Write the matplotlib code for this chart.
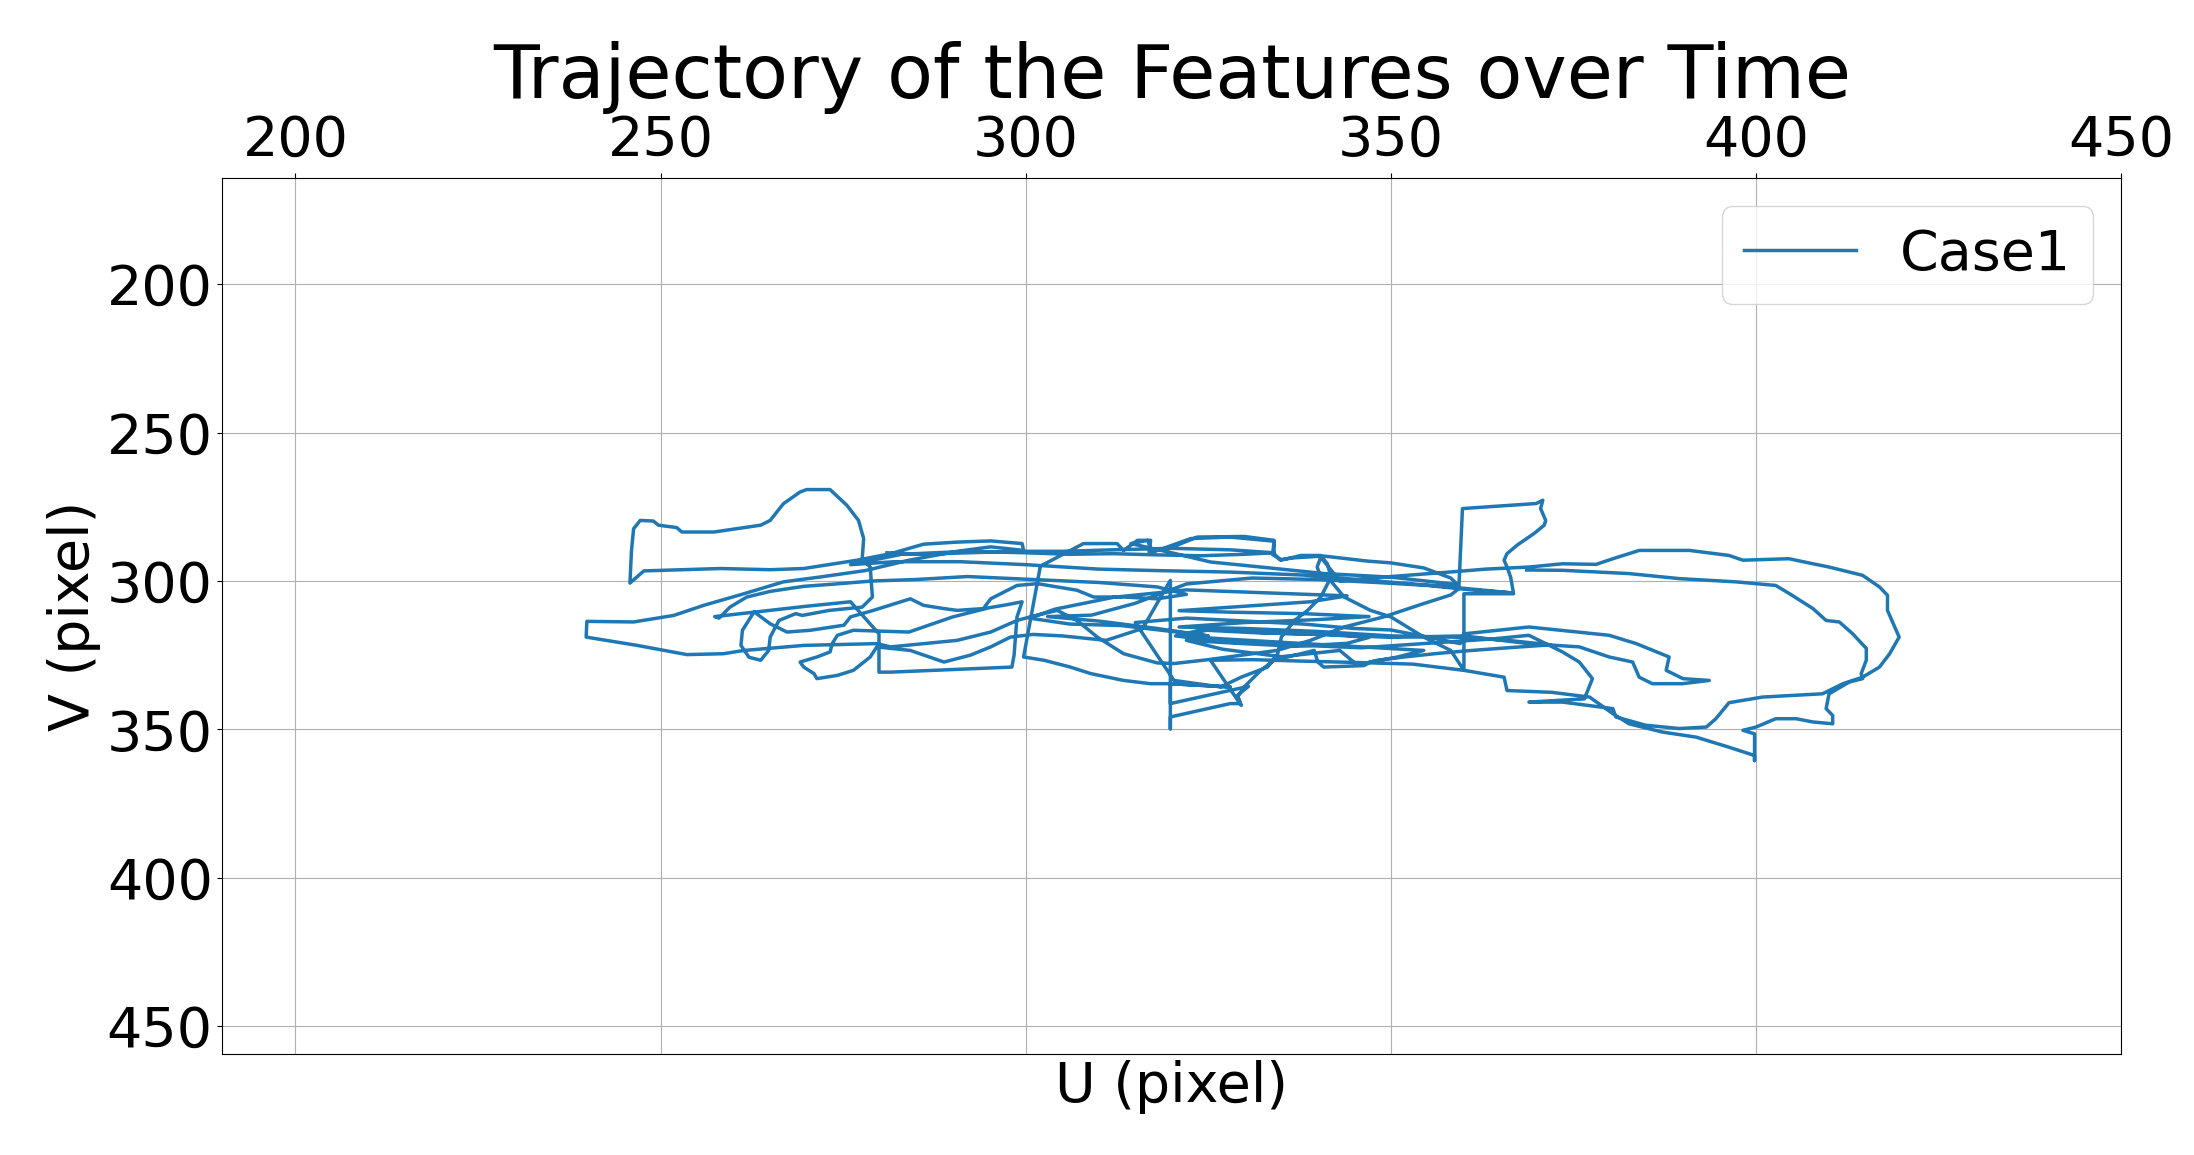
import numpy as np
import matplotlib
matplotlib.use("Agg")
import matplotlib.pyplot as plt

# feature trajectory (pixel coordinates)
u_px = [368.6, 373.5, 382.6, 389.5, 397.3, 402.7, 404.6, 407.8, 409.6, 411.4, 413.2, 415.1, 415.1, 414.4, 414.6,
        412.8, 410.0, 409.6, 410.5, 410.5, 407.8, 405.5, 402.7, 400.0, 398.2, 399.8, 399.8, 399.8, 396.3, 391.8,
        387.2, 382.6, 380.4, 377.2, 372.0, 365.9, 365.5, 360.0, 360.0, 366.8, 366.4, 365.9, 365.5, 365.9, 367.3,
        369.6, 371.0, 371.2, 370.5, 370.8, 369.9, 359.8, 359.3, 358.2, 354.5, 349.0, 343.6, 339.0, 334.4, 325.0,
        320.3, 318.0, 313.4, 309.8, 307.0, 304.3, 300.6, 298.8, 295.2, 290.6, 286.0, 281.5, 279.6, 269.6, 261.4,
        258.6, 253.6, 246.8, 239.8, 239.9, 246.3, 251.8, 255.9, 261.4, 266.8, 272.0, 278.0, 284.0, 290.6, 295.2,
        299.7, 299.5, 295.2, 290.6, 286.0, 281.5, 276.9, 269.6, 265.0, 258.2, 252.7, 247.7, 245.8, 246.0, 246.3,
        247.2, 249.0, 249.7, 252.2, 252.9, 257.3, 263.7, 265.0, 266.8, 269.1, 270.0, 273.2, 275.5, 277.1, 277.8,
        277.6, 278.7, 279.0, 277.6, 273.1, 269.4, 268.5, 266.2, 265.0, 264.8, 263.7, 262.1, 261.0, 261.2, 262.8,
        265.0, 267.3, 270.5, 275.1, 276.0, 279.0, 284.2, 286.0, 288.8, 290.6, 294.2, 295.2, 298.8, 301.6, 307.0,
        309.3, 313.4, 318.0, 322.0, 318.0, 310.0, 301.0, 292.0, 285.0, 279.0, 274.0, 269.6, 265.0, 261.8, 259.5,
        258.0, 257.4, 263.2, 270.0, 276.0, 279.9, 279.9, 281.5, 298.1, 298.4, 298.8, 299.5, 297.4, 295.0, 290.0,
        284.0, 276.4, 274.2, 273.5, 273.2, 271.4, 269.1, 269.6, 271.0, 271.4, 274.2, 276.4, 278.7, 279.6, 284.2,
        288.8, 292.4, 295.2, 297.9, 301.0, 305.0, 311.0, 316.0, 319.8, 319.8, 319.8, 328.0, 329.4, 329.0, 330.5,
        319.8, 319.8, 328.0, 319.8, 317.1, 313.4, 308.9, 306.1, 302.5, 299.7, 302.0, 307.9, 312.5, 313.4, 315.3,
        317.1, 316.9, 317.5, 322.6, 328.0, 334.0, 333.8, 334.9, 336.7, 340.8, 346.8, 350.0, 354.5, 358.2, 359.1,
        350.0, 340.9, 332.2, 325.3, 320.0, 314.4, 316.7, 317.1, 318.9, 323.5, 329.9, 334.0, 334.0, 334.9, 337.7,
        340.4, 341.3, 341.8, 340.4, 338.6, 336.8, 335.0, 334.5, 333.1, 329.5, 326.7, 320.3, 315.0, 322.0, 330.0,
        338.0, 345.0, 350.0, 357.3, 359.5, 360.0, 368.9, 379.9, 383.6, 388.1, 387.7, 390.0, 393.6, 389.9, 385.8,
        384.0, 383.1, 379.9, 375.8, 368.9, 360.0, 350.0, 341.0, 332.0, 324.0, 320.5, 327.0, 336.0, 346.0, 352.0,
        358.0, 364.0, 368.9, 373.5, 375.8, 377.6, 376.5, 368.9, 373.5, 380.4, 380.8, 384.9, 389.5, 393.2, 394.5,
        396.3, 400.9, 405.5, 409.1, 411.9, 414.6, 416.9, 418.3, 419.6, 418.0, 418.0, 416.9, 414.6, 410.0, 407.8,
        404.5, 400.9, 398.2, 396.3, 390.9, 384.0, 380.4, 378.1, 373.5, 368.9, 363.0, 358.0, 350.0, 343.0, 340.4,
        339.9, 340.4, 341.7, 343.6, 347.2, 350.0, 354.5, 358.2, 360.0, 353.0, 346.0, 338.0, 331.0, 325.3, 329.5,
        329.0, 329.9, 332.2, 334.0, 339.5, 340.0, 340.8, 346.3, 347.2, 350.9, 354.5, 348.0, 341.0, 334.0, 327.0,
        321.0, 326.0, 333.0, 341.0, 347.0, 344.0, 337.0, 329.0, 322.0, 327.0, 335.0, 343.0, 345.4, 348.2, 351.8,
        356.0, 360.5, 366.0, 371.9, 366.0, 360.0, 350.0, 340.0, 330.0, 321.0, 330.0, 340.0, 347.0, 338.0, 328.0,
        321.0, 330.0, 339.0, 344.0, 333.0, 322.0, 312.0, 304.0, 300.5, 306.0, 313.0, 320.0, 325.0, 318.0, 310.0,
        303.0, 309.0, 315.0, 322.0, 331.0, 340.0, 348.0, 355.0, 361.0, 366.5, 358.0, 348.0, 338.0, 328.0, 318.0,
        310.0, 300.0, 291.0, 282.0, 276.0, 283.0, 292.0, 300.0, 306.0, 312.0, 318.0, 324.0, 330.0, 334.0, 328.0,
        320.0, 312.0, 305.0, 299.0, 292.0, 286.0, 281.0]
v_px = [296.3, 296.4, 297.5, 299.2, 300.3, 301.5, 304.3, 309.3, 313.3, 313.8, 317.7, 322.7, 326.7, 331.2, 332.9,
        334.0, 338.0, 343.0, 345.3, 348.1, 347.5, 346.4, 346.4, 349.2, 350.3, 351.5, 360.5, 358.8, 356.0, 352.6,
        350.9, 348.1, 344.7, 339.1, 337.5, 336.9, 332.4, 330.1, 304.3, 304.3, 298.7, 295.3, 293.0, 290.8, 287.9,
        284.0, 281.2, 279.6, 275.6, 272.8, 273.9, 275.6, 302.6, 304.7, 307.6, 312.1, 315.5, 320.0, 323.4, 326.5,
        327.8, 327.6, 324.5, 318.9, 313.3, 309.9, 312.1, 313.3, 317.2, 320.0, 321.1, 322.2, 321.1, 321.7, 323.4,
        324.5, 324.8, 321.7, 318.9, 313.6, 313.8, 311.6, 308.2, 304.3, 300.3, 298.6, 296.5, 293.0, 290.0, 288.5,
        289.7, 287.4, 286.5, 286.9, 287.6, 290.8, 293.0, 295.8, 296.2, 295.8, 296.2, 296.6, 300.7, 290.0, 282.4,
        279.6, 279.8, 281.2, 282.0, 283.5, 283.5, 281.2, 279.6, 274.0, 270.0, 269.2, 269.2, 274.5, 279.6, 285.7,
        292.5, 295.3, 305.4, 308.8, 309.9, 311.6, 311.0, 313.3, 318.9, 323.4, 326.7, 325.7, 321.7, 316.6, 310.4,
        314.4, 317.2, 316.6, 314.9, 312.1, 310.0, 306.0, 308.2, 309.3, 309.9, 309.3, 306.0, 301.5, 300.9, 303.1,
        305.4, 305.4, 306.0, 304.5, 302.0, 300.5, 299.5, 298.5, 299.5, 300.0, 301.0, 301.8, 303.5, 305.4, 308.8,
        312.5, 312.0, 310.4, 308.5, 307.0, 317.8, 330.7, 330.7, 329.0, 325.0, 312.1, 307.0, 308.0, 309.0, 312.1,
        317.2, 316.6, 318.3, 321.1, 323.9, 325.6, 327.3, 329.0, 331.2, 332.9, 331.8, 330.1, 325.6, 322.2, 323.4,
        327.3, 325.0, 322.2, 318.9, 318.0, 318.5, 320.0, 316.0, 299.8, 349.8, 345.8, 341.3, 341.3, 338.5, 335.5,
        341.3, 334.6, 335.7, 334.6, 334.6, 333.5, 331.2, 329.0, 326.7, 325.6, 295.0, 287.4, 287.4, 289.7, 286.3,
        286.3, 290.2, 290.2, 285.7, 285.2, 286.6, 291.1, 292.8, 292.2, 291.6, 293.3, 293.9, 295.6, 299.0, 301.2,
        298.7, 297.5, 295.3, 293.6, 290.5, 287.4, 286.3, 289.1, 289.7, 285.2, 285.0, 286.3, 290.8, 293.0, 291.4,
        291.4, 294.2, 298.7, 305.4, 309.9, 313.3, 318.9, 324.5, 329.0, 332.4, 335.7, 333.5, 314.0, 312.5, 313.5,
        314.5, 316.0, 316.5, 320.0, 321.1, 317.8, 315.5, 318.3, 321.1, 325.6, 330.1, 332.9, 333.5, 334.6, 334.6,
        332.4, 327.3, 325.6, 322.2, 321.1, 318.5, 319.0, 318.0, 317.5, 316.5, 318.5, 320.5, 321.5, 322.5, 321.5,
        320.5, 319.5, 318.3, 323.9, 327.3, 332.9, 339.7, 340.8, 340.8, 343.0, 345.8, 348.6, 349.7, 349.2, 346.4,
        341.0, 339.1, 338.5, 338.0, 334.6, 332.4, 329.0, 324.5, 318.9, 309.9, 304.8, 302.0, 298.1, 295.3, 294.2,
        292.5, 292.8, 293.0, 291.4, 289.7, 289.7, 292.5, 294.4, 294.2, 295.3, 296.0, 297.0, 298.5, 300.0, 292.0,
        295.3, 298.7, 299.8, 305.4, 309.9, 312.1, 318.9, 323.4, 330.1, 328.0, 327.5, 327.0, 326.5, 326.7, 341.9,
        339.1, 335.7, 330.1, 326.7, 323.4, 327.3, 329.0, 328.5, 327.3, 325.6, 323.4, 322.5, 321.5, 320.5, 319.5,
        318.5, 316.0, 317.5, 318.0, 319.0, 321.0, 322.0, 321.0, 320.0, 323.0, 325.5, 323.4, 328.3, 326.7, 325.6,
        324.5, 323.5, 322.5, 321.5, 320.0, 319.0, 318.5, 317.0, 316.0, 315.5, 314.0, 313.0, 312.0, 311.0, 310.5,
        310.0, 308.5, 307.0, 305.0, 304.0, 303.0, 305.5, 309.5, 312.5, 314.5, 315.0, 317.0, 318.5, 316.0, 313.5,
        312.0, 311.5, 307.5, 301.0, 299.0, 299.5, 300.5, 301.5, 303.0, 304.0, 302.0, 300.0, 298.0, 297.0, 296.5,
        296.0, 294.5, 293.5, 293.5, 294.5, 291.0, 290.0, 290.5, 291.0, 290.8, 291.2, 291.5, 291.0, 290.5, 289.5,
        289.0, 289.5, 290.0, 290.0, 290.5, 291.0, 290.5]

fig = plt.figure(figsize=(21.94, 11.55), dpi=100)
ax = fig.add_axes([0.1014, 0.0873, 0.8654, 0.7587])

ax.plot(u_px, v_px, color='#1f77b4', linewidth=2.5, label='Case1')

ax.set_xlim(190, 450)
ax.set_ylim(459.4, 164.2)
ax.set_xticks(np.arange(200, 451, 50))
ax.set_yticks(np.arange(200, 451, 50))
ax.xaxis.tick_top()
ax.xaxis.set_label_position('bottom')
ax.tick_params(labelsize=40)
ax.grid(True)

ax.set_xlabel('U (pixel)', fontsize=40)
ax.set_ylabel('V (pixel)', fontsize=40)
ax.set_title('Trajectory of the Features over Time', fontsize=54, pad=6)
ax.legend(loc='upper right', fontsize=40)

fig.savefig('out.png', dpi=100)
